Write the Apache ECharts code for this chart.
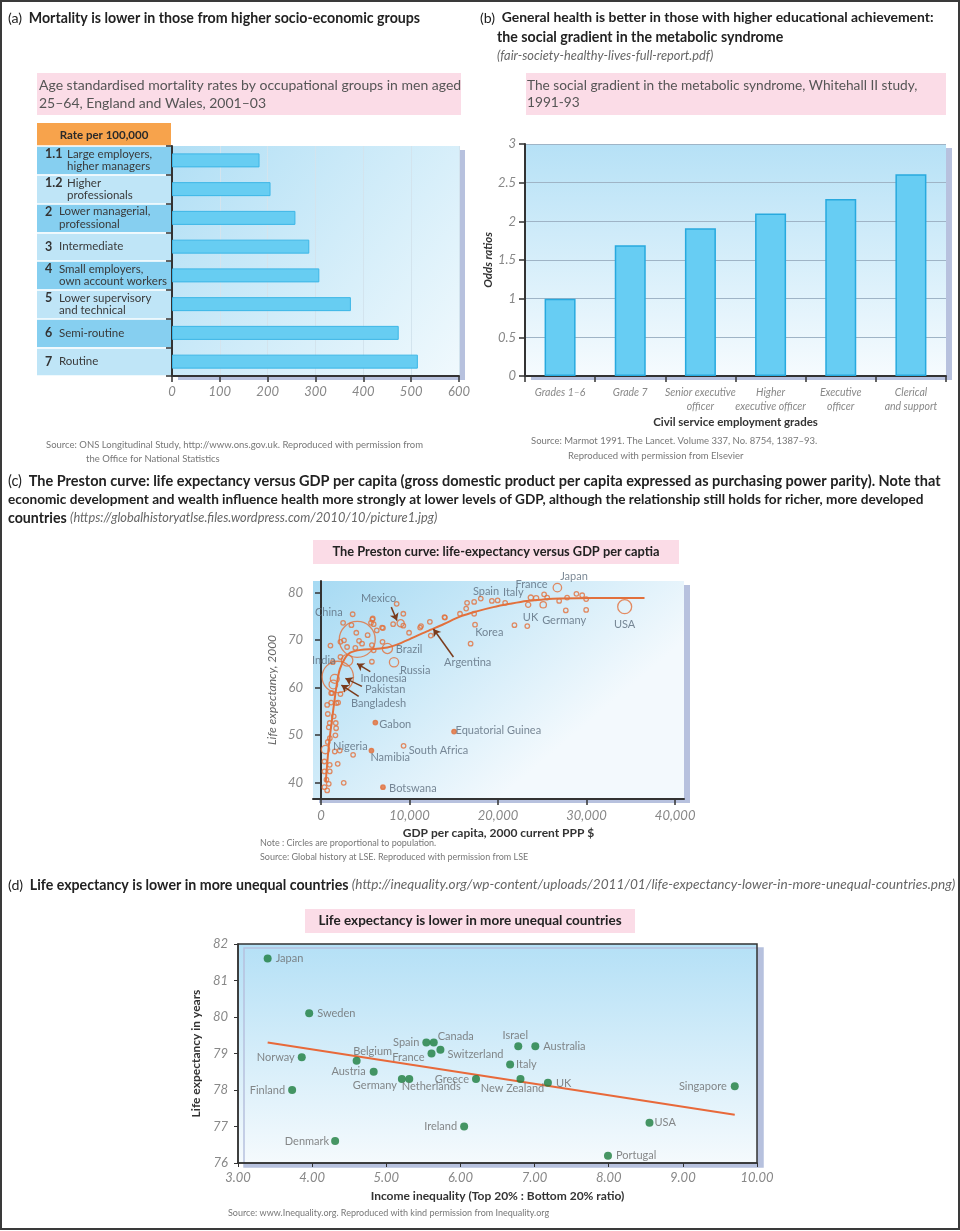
<!DOCTYPE html>
<html><head><meta charset="utf-8">
<script src="https://cdn.jsdelivr.net/npm/echarts@6/dist/echarts.min.js"></script>
<style>html,body{margin:0;padding:0;background:#fff}#c{width:960px;height:1231px}</style>
</head><body><div id="c"></div>
<script>
// ---------- Panel (a) ----------
const occNumbers = ['1.1','1.2','2','3','4','5','6','7'];
const occNames = [['Large employers,','higher managers'],['Higher','professionals'],['Lower managerial,','professional'],['Intermediate'],['Small employers,','own account workers'],['Lower supervisory','and technical'],['Semi-routine'],['Routine']];
const mortalityRates = [183,206,258,287,308,374,474,514];

// ---------- Panel (b) ----------
const gradeNames = ['Grades 1–6','Grade 7','Senior executive\nofficer','Higher\nexecutive officer','Executive\nofficer','Clerical\nand support'];
const oddsRatios = [1.0,1.69,1.91,2.10,2.29,2.61];

// ---------- Panel (c) ----------
// [GDP per capita, life expectancy, population (millions)]
const prestonPoints = [
 [26700,81.0,127],[23700,78.9,59],[24300,78.8,57],[23400,77.4,59],[25100,77.4,82],[34300,77.0,282],
 [19300,78.2,40],[19950,78.3,10],[18050,78.7,10],[16500,77.8,10],[17300,78.0,5],[20800,77.8,8],
 [25200,79.6,7],[25550,78.9,16],[27800,78.9,31],[26900,78.2,8],[28850,79.7,4],[29500,79.4,4],
 [29950,78.6,4],[27650,76.2,5],[29950,76.3,4],[21850,73.1,3],[23300,72.9,3],[16900,69.2,3],
 [17400,73.2,47],[17300,75.5,4],[15700,75.5,4],[13950,74.8,4],[16400,76.6,3],[12300,73.8,37],
 [12400,70.9,4],[11300,72.9,5],[11200,72.6,4],[9950,71.5,4],[14000,74.7,3],
 [9000,73.5,98],[9300,73.0,20],[8550,77.6,4],[9300,75.5,4],[8150,73.3,6],[7000,72.5,4],
 [6300,72.0,4],[5850,74.5,4],[5950,73.3,5],[6900,72.6,4],[7500,68.2,170],[6950,69.6,40],
 [8250,65.3,146],[5750,65.4,8],[5950,67.8,6],[5750,68.9,15],
 [4100,70.1,1262],[3580,75.4,4],[2500,73.6,5],[3440,73.1,6],[5650,73.6,4],[5800,74.3,3],
 [5270,71.0,12],[3990,71.5,5],[2200,69.6,25],[1070,68.8,5],[2950,68.5,18],[3880,68.3,20],
 [4640,69.2,10],[2200,66.4,4],[1340,65.3,4],[2600,69.9,6],[4300,69.8,8],
 [1900,62.2,1016],[1560,61.8,138],[1400,60.6,131],[2950,65.7,206],
 [1150,58.8,20],[2200,58.6,6],[1260,58.8,8],[700,56.3,6],[1750,56.7,5],[1150,56.8,4],
 [1940,56.8,4],[770,54.4,5],[1440,53.9,5],[990,52.5,4],[1670,52.5,4],[880,51.6,5],
 [1710,51.4,5],[1630,49.9,10],[1000,49.3,4],[770,48.5,6],[510,46.9,124],[1560,46.5,5],
 [2120,46.7,5],[3630,45.8,3],[1890,43.9,3],[390,44.4,14],[990,43.7,5],[390,42.3,14],
 [990,42.3,8],[620,40.6,4],[880,39.7,4],[390,39.0,5],[700,38.3,4],[2570,39.9,5],
 [6140,52.6,1],[15030,50.7,0.5],[9330,47.7,43],[5700,46.7,2],[7000,39.0,1.6]
];
const prestonCurve = [[540,40.0],[620,42.0],[880,47.6],[1150,51.8],[1440,56.0],[1750,60.2],[2120,63.8],[2760,66.3],[3300,67.3],[4500,67.9],[6000,68.1],[7500,68.4],[8580,69.0],[10080,70.2],[11960,71.8],[13830,73.3],[15700,74.9],[17580,76.0],[19460,76.9],[21340,77.6],[23220,78.2],[25090,78.5],[26970,78.7],[30720,78.8],[36540,78.8]];
const prestonLabels = [['Japan',28580,83.3],['France',23780,81.7],['Spain',18640,80.3],['Italy',21720,79.9],['UK',23670,74.8],['Germany',27460,74.1],['USA',34290,73.3],['Korea',19010,71.5],['Argentina',16570,65.3],['Mexico',6510,78.8],['China',880,75.7],['Brazil',9960,68.0],['Russia',10640,63.6],['India',320,65.7],['Indonesia',7080,61.9],['Pakistan',7260,59.5],['Bangladesh',6510,56.7],['Gabon',8390,52.1],['Equatorial Guinea',20030,50.9],['South Africa',13270,46.7],['Namibia',7820,45.3],['Nigeria',3320,47.6],['Botswana',10380,38.8]];
const prestonArrows = [[[7940,76.9],[8580,74.1]],[[14960,66.4],[12700,72.3]],[[5570,63.3],[4070,65.0]],[[4630,60.2],[2760,61.9]],[[4260,58.1],[2310,60.5]]];
const gdpTicks = [0,10000,20000,30000,40000];
const lifeTicks = [40,50,60,70,80];

// ---------- Panel (d) ----------
const countries = ['Japan','Sweden','Norway','Finland','Denmark','Belgium','Austria','Germany','Netherlands','Spain','Canada','France','Switzerland','Ireland','Greece','Italy','Israel','New Zealand','Australia','UK','Portugal','USA','Singapore'];
const inequality = [3.40,3.96,3.86,3.73,4.31,4.60,4.83,5.21,5.31,5.54,5.64,5.61,5.73,6.05,6.21,6.67,6.78,6.81,7.01,7.18,7.99,8.55,9.70];
const lifeExpectancy = [81.6,80.1,78.9,78.0,76.6,78.8,78.5,78.3,78.3,79.3,79.3,79.0,79.1,77.0,78.3,78.7,79.2,78.3,79.2,78.2,76.2,77.1,78.1];
const trendLine = [[3.4,79.3],[9.7,77.32]];

// label placement (style only)
const dLabelStyle = {
  Japan:{position:'right',distance:4}, Sweden:{position:'right',distance:4},
  Norway:{position:'left',distance:3}, Finland:{position:'left',distance:3},
  Denmark:{position:'left',distance:2}, Belgium:{position:'top',distance:0,offset:[16,0]},
  Austria:{position:'left',distance:4}, Germany:{position:'bottom',distance:0,offset:[-27,-3]},
  Netherlands:{position:'bottom',distance:0,offset:[22,-2]}, Spain:{position:'left',distance:3},
  Canada:{position:'top',distance:0,offset:[22,3]}, France:{position:'left',distance:3,offset:[0,4]},
  Switzerland:{position:'right',distance:3,offset:[0,5]}, Ireland:{position:'left',distance:3},
  Greece:{position:'left',distance:3}, Italy:{position:'right',distance:2},
  Israel:{position:'top',distance:1,offset:[-3,0]}, 'New Zealand':{position:'bottom',distance:0,offset:[-8,0]},
  Australia:{position:'right',distance:4}, UK:{position:'right',distance:4,offset:[0,1]},
  Portugal:{position:'right',distance:4}, USA:{position:'right',distance:1},
  Singapore:{position:'left',distance:4}
};

const FONT = 'Lato, "Open Sans", sans-serif';
const chart = echarts.init(document.getElementById('c'));
const LG = (x1,y1,x2,y2,c1,c2) => new echarts.graphic.LinearGradient(x1,y1,x2,y2,[{offset:0,color:c1},{offset:1,color:c2}]);

function T(x, y, text, font, fill, align, extra) {
  return {type:'text', x, y, silent:true, z:10,
    style:Object.assign({text, font, fill: fill || '#222', align: align || 'left', verticalAlign:'middle', textAlign: align || 'left', textVerticalAlign:'middle'}, extra || {})};
}
const PINK = '#fbdce7';
const hdr = {p:{fontFamily:FONT,fontSize:14.2,fill:'#222'}, b:{fontFamily:FONT,fontSize:14.2,fontWeight:'bold',fill:'#222'},
             b2:{fontFamily:FONT,fontSize:13.9,fontWeight:'bold',fill:'#222'},
             c1:{fontFamily:FONT,fontSize:14.5,fontWeight:'bold',fill:'#222'}, cp:{fontFamily:FONT,fontSize:14.5,fill:'#222'},
             c2:{fontFamily:FONT,fontSize:13.6,fontWeight:'bold',fill:'#222'},
             i:{fontFamily:FONT,fontSize:12.8,fontStyle:'italic',fill:'#666'}, j:{fontFamily:FONT,fontSize:13.6,fontStyle:'italic',fill:'#666'}};

const graphics = [
  {type:'rect', silent:true, z:20, shape:{x:1,y:1,width:958,height:1228}, style:{fill:'none', stroke:'#3a3a3a', lineWidth:2}},
  T(8,18,'{p|(a)}  {b|Mortality is lower in those from higher socio-economic groups}',null,'#222','left',{rich:hdr}),
  T(480,18,'{p|(b)}  {b2|General health is better in those with higher educational achievement:}',null,'#222','left',{rich:hdr}),
  T(497,37,'{b|the social gradient in the metabolic syndrome}',null,'#222','left',{rich:hdr}),
  T(497,56,'{i|(fair-society-healthy-lives-full-report.pdf)}',null,'#666','left',{rich:hdr}),
  T(8,481,'{cp|(c)}  {c1|The Preston curve: life expectancy versus GDP per capita (gross domestic product per capita expressed as purchasing power parity). Note that}',null,'#222','left',{rich:hdr}),
  T(8,500,'{c2|economic development and wealth influence health more strongly at lower levels of GDP, although the relationship still holds for richer, more developed}',null,'#222','left',{rich:hdr}),
  T(8,518,'{b|countries} {i|(https://globalhistoryatlse.files.wordpress.com/2010/10/picture1.jpg)}',null,'#222','left',{rich:hdr}),
  T(8,885,'{p|(d)}  {b|Life expectancy is lower in more unequal countries} {j|(http://inequality.org/wp-content/uploads/2011/01/life-expectancy-lower-in-more-unequal-countries.png)}',null,'#222','left',{rich:hdr}),
  {type:'rect', silent:true, shape:{x:37,y:73,width:424,height:42}, style:{fill:PINK}},
  T(39,85,'Age standardised mortality rates by occupational groups in men aged','14px '+FONT,'#555'),
  T(39,103,'25–64, England and Wales, 2001–03','14px '+FONT,'#555'),
  {type:'rect', silent:true, shape:{x:526,y:73,width:420,height:42}, style:{fill:PINK}},
  T(527,86,'The social gradient in the metabolic syndrome, Whitehall II study,','13.7px '+FONT,'#555'),
  T(527,103,'1991-93','13.7px '+FONT,'#555'),
  {type:'rect', silent:true, shape:{x:313,y:540,width:366,height:24}, style:{fill:PINK}},
  T(496,552,'The Preston curve: life-expectancy versus GDP per captia','bold 12.8px '+FONT,'#222','center'),
  {type:'rect', silent:true, shape:{x:305,y:909,width:330,height:24}, style:{fill:PINK}},
  T(470,921,'Life expectancy is lower in more unequal countries','bold 13.5px '+FONT,'#222','center'),
  {type:'rect', silent:true, shape:{x:37,y:123,width:134,height:23}, style:{fill:'#f7a34c'}},
  T(104,135,'Rate per 100,000','bold 11.5px '+FONT,'#2a2a2a','center'),
  T(46,445,'Source: ONS Longitudinal Study, http://www.ons.gov.uk. Reproduced with permission from','9.5px '+FONT,'#777'),
  T(86,459,'the Office for National Statistics','9.5px '+FONT,'#777'),
  T(531,441,'Source: Marmot 1991. The Lancet. Volume 337, No. 8754, 1387–93.','9.5px '+FONT,'#777'),
  T(568,456,'Reproduced with permission from Elsevier','9.5px '+FONT,'#777'),
  T(260,843,'Note : Circles are proportional to population.','9px '+FONT,'#777'),
  T(260,857,'Source: Global history at LSE. Reproduced with permission from LSE','9px '+FONT,'#777'),
  T(228,1213,'Source: www.Inequality.org. Reproduced with kind permission from Inequality.org','9px '+FONT,'#777')
];

const axisDark = {lineStyle:{color:'#333', width:2}};
const tickDark = {show:true, length:6, lineStyle:{color:'#333', width:1.5}};
const italicLabel = {fontFamily:FONT, fontStyle:'italic', color:'#888', fontSize:13};
const shadow = {shadowColor:'#b7c1de', shadowOffsetX:6, shadowOffsetY:4, shadowBlur:0};

const option = {
  animation:false,
  backgroundColor:'#fff',
  textStyle:{fontFamily:FONT},
  graphic:{elements:graphics},
  grid:[
    Object.assign({left:172, top:146, width:287, height:230, show:true, borderWidth:0, backgroundColor:LG(0,0,1,1,'#b1dff5','#f0f9fd')}, shadow),
    {left:37, top:146, width:134, height:230, show:false},
    Object.assign({left:525, top:144, width:421, height:232, show:true, borderWidth:0, backgroundColor:LG(0,0,0,1,'#b6e1f6','#f6fbfe')}, shadow),
    Object.assign({left:313, top:581, width:371, height:218, show:true, borderWidth:0, backgroundColor:LG(0,0,0.5,1,'#a6daf3','#f3f9fd')}, shadow),
    Object.assign({left:238, top:944, width:519, height:219, show:true, borderColor:'#333', borderWidth:1.5, backgroundColor:LG(0,0,0,1,'#b4e0f6','#f5fafd')}, shadow)
  ],
  xAxis:[
    {gridIndex:0, type:'value', min:0, max:600, interval:100, axisLine:Object.assign({show:true},axisDark), axisTick:tickDark,
     axisLabel:Object.assign({margin:9}, italicLabel), splitLine:{show:true, lineStyle:{color:'#d3e4ee', width:1}}},
    {gridIndex:1, type:'value', show:false, min:0, max:1},
    {gridIndex:2, type:'category', data:gradeNames, axisLine:axisDark, axisTick:tickDark,
     axisLabel:{interval:0, margin:10, fontFamily:FONT, fontStyle:'italic', color:'#888', fontSize:10.5, lineHeight:13.5},
     name:'Civil service employment grades', nameLocation:'middle', nameGap:40,
     nameTextStyle:{fontFamily:FONT, fontWeight:'bold', fontSize:11.5, color:'#333'}},
    {gridIndex:3, type:'value', min:-900, max:41000, axisLine:axisDark,
     axisTick:{show:true, length:6, lineStyle:{color:'#333', width:1.5}, customValues:gdpTicks},
     axisLabel:Object.assign({margin:10, customValues:gdpTicks, formatter:v => v === 0 ? '0' : v.toLocaleString('en-US')}, italicLabel),
     splitLine:{show:false},
     name:'GDP per capita, 2000 current PPP $', nameLocation:'middle', nameGap:28,
     nameTextStyle:{fontFamily:FONT, fontWeight:'bold', fontSize:12, color:'#333'}},
    {gridIndex:4, type:'value', min:3, max:10, interval:1, axisLine:{lineStyle:{color:'#333', width:1.5}},
     axisTick:{show:true, length:4, lineStyle:{color:'#333'}},
     axisLabel:Object.assign({margin:8, formatter:v => v.toFixed(2)}, italicLabel), splitLine:{show:false},
     name:'Income inequality (Top 20% : Bottom 20% ratio)', nameLocation:'middle', nameGap:27,
     nameTextStyle:{fontFamily:FONT, fontWeight:'bold', fontSize:12, color:'#333'}}
  ],
  yAxis:[
    {gridIndex:0, type:'category', data:occNumbers, inverse:true, axisLine:axisDark, axisTick:tickDark, axisLabel:{show:false}},
    {gridIndex:1, type:'category', data:occNumbers, inverse:true, axisLine:{show:false}, axisTick:{show:false},
     splitArea:{show:true, interval:0, areaStyle:{color:['#86cff0','#bfe5f7']}},
     splitLine:{show:true, interval:0, lineStyle:{color:'#ffffff', width:1.5}},
     axisLabel:{inside:true, interval:0, margin:8, align:'left',
       formatter:(v) => {
         const idx = occNumbers.indexOf(v);
         const nm = occNames[idx];
         const wide = v.length > 1;
         let s = '{' + (wide ? 'nw' : 'nn') + '|' + v + '}{t|' + nm[0] + '}';
         if (nm[1]) s += '\n{' + (wide ? 'pw' : 'pn') + '| }{t|' + nm[1] + '}';
         return s;
       },
       rich:{
         nw:{width:22, fontWeight:'bold', fontSize:12.5, color:'#333', fontFamily:FONT, lineHeight:12.5},
         nn:{width:14, fontWeight:'bold', fontSize:12.5, color:'#333', fontFamily:FONT, lineHeight:12.5},
         pw:{width:22, lineHeight:12.5}, pn:{width:14, lineHeight:12.5},
         t:{fontSize:11.5, color:'#3a3a3a', fontFamily:FONT, lineHeight:12.5}
       }}},
    {gridIndex:2, type:'value', min:0, max:3, interval:0.5, axisLine:{show:true, lineStyle:{color:'#333', width:2}}, axisTick:tickDark,
     axisLabel:Object.assign({margin:9}, italicLabel), splitLine:{show:true, lineStyle:{color:'#9fb4c6', width:1}},
     name:'Odds ratios', nameLocation:'middle', nameGap:31, nameRotate:90,
     nameTextStyle:{fontFamily:FONT, fontWeight:'bold', fontStyle:'italic', fontSize:11.5, color:'#333'}},
    {gridIndex:3, type:'value', min:36.5, max:82.4, axisLine:{show:true, lineStyle:{color:'#333', width:2}},
     axisTick:{show:true, length:6, lineStyle:{color:'#333', width:1.5}, customValues:lifeTicks},
     axisLabel:Object.assign({margin:10, customValues:lifeTicks}, italicLabel), splitLine:{show:false},
     name:'Life expectancy, 2000', nameLocation:'middle', nameGap:35, nameRotate:90,
     nameTextStyle:{fontFamily:FONT, fontStyle:'italic', fontSize:12, color:'#666'}},
    {gridIndex:4, type:'value', min:76, max:82, interval:1, axisLine:{show:true, lineStyle:{color:'#333', width:1.5}},
     axisTick:{show:true, length:4, lineStyle:{color:'#333'}},
     axisLabel:Object.assign({margin:10}, italicLabel), splitLine:{show:false},
     name:'Life expectancy in years', nameLocation:'middle', nameGap:34, nameRotate:90,
     nameTextStyle:{fontFamily:FONT, fontWeight:'bold', fontSize:12, color:'#333'}}
  ],
  series:[
    {type:'bar', xAxisIndex:0, yAxisIndex:0, data:mortalityRates, barWidth:14, silent:true,
     itemStyle:{color:'#67cdf2', borderColor:'#3cb6e6', borderWidth:1}},
    {type:'bar', xAxisIndex:1, yAxisIndex:1, data:[], silent:true},
    {type:'bar', xAxisIndex:2, yAxisIndex:2, data:oddsRatios, barWidth:31, silent:true,
     itemStyle:{color:'#67cdf3', borderColor:'#28a9de', borderWidth:1.5}},
    {type:'scatter', xAxisIndex:3, yAxisIndex:3, data:prestonPoints, silent:true, clip:false,
     symbolSize:d => Math.max(4.5, 0.4 * Math.pow(d[2], 0.63)),
     itemStyle:{color:p => p.data[2] < 2.5 ? '#e2703c' : 'rgba(0,0,0,0)', borderColor:'#e2703c', borderWidth:1.3}},
    {type:'line', xAxisIndex:3, yAxisIndex:3, data:prestonCurve, smooth:0.3, symbol:'none', silent:true,
     lineStyle:{color:'#e2703c', width:2}, z:3},
    {type:'scatter', xAxisIndex:3, yAxisIndex:3, silent:true, clip:false, symbolSize:1,
     itemStyle:{color:'rgba(0,0,0,0)'},
     data:prestonLabels.map(l => ({value:[l[1], l[2], l[0]]})),
     label:{show:true, position:'inside', formatter:p => p.value[2], color:'#5b6b7c', fontSize:11, fontFamily:FONT},
     markLine:{silent:true, symbol:['none','arrow'], symbolSize:7, label:{show:false},
       lineStyle:{color:'#7a3b1c', width:1.5, type:'solid'},
       data:prestonArrows.map(a => [{coord:a[0]},{coord:a[1]}])}, z:5},
    {type:'line', xAxisIndex:4, yAxisIndex:4, data:trendLine, symbol:'none', silent:true,
     lineStyle:{color:'#e8693a', width:2}},
    {type:'scatter', xAxisIndex:4, yAxisIndex:4, symbolSize:8, silent:true,
     itemStyle:{color:'#1b7d3d'},
     data:countries.map((c,i) => ({value:[inequality[i], lifeExpectancy[i], c], label:dLabelStyle[c]})),
     label:{show:true, formatter:p => p.value[2], color:'#6a6a6a', fontSize:11, fontFamily:FONT}, z:4}
  ]
};
chart.setOption(option);
</script></body></html>
